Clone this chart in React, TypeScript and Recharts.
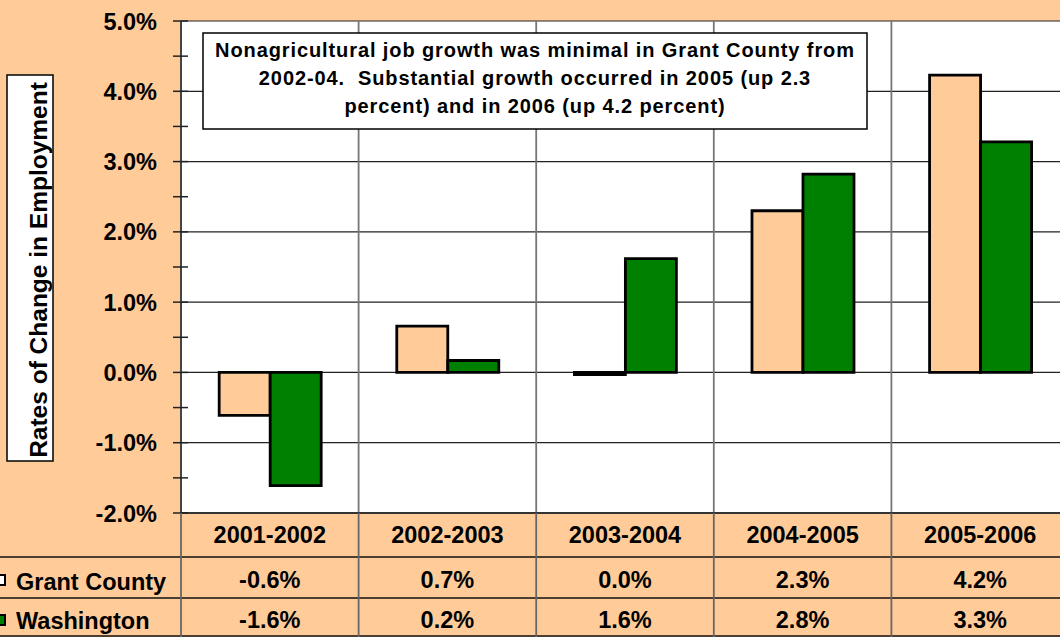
import React from 'react';
import { BarChart, Bar, XAxis, YAxis, CartesianGrid } from 'recharts';

const categories = ['2001-2002', '2002-2003', '2003-2004', '2004-2005', '2005-2006'];
const grantCounty = [-0.61, 0.66, -0.03, 2.3, 4.23];
const washington = [-1.61, 0.17, 1.62, 2.82, 3.28];
const seriesNames = ['Grant County', 'Washington'];
const yTicks = [-2, -1.5, -1, -0.5, 0, 0.5, 1, 1.5, 2, 2.5, 3, 3.5, 4, 4.5, 5];
const gridValues = [-2, -1, 0, 1, 2, 3, 4, 5];
const yTitle = 'Rates of Change in Employment';
const annotationLines = [
  'Nonagricultural job growth was minimal in Grant County from',
  '2002-04.  Substantial growth occurred in 2005 (up 2.3',
  'percent) and in 2006 (up 4.2 percent)',
];

const data = categories.map((c, i) => ({ category: c, grant: grantCounty[i], wa: washington[i] }));

const PEACH = '#FFCC99';
const GREEN = '#008000';
const FONT = '"Liberation Sans", Arial, sans-serif';

const W = 1080;
const H = 637;
const PLOT_LEFT = 181;
const PLOT_TOP = 21;
const PLOT_RIGHT_MARGIN = 11;
const XAXIS_H = 124;
const PLOT_W = W - PLOT_LEFT - PLOT_RIGHT_MARGIN;
const PLOT_BOTTOM = H - XAXIS_H;

const fmt = (v: number) => (Math.round(v * 10) / 10 + 0).toFixed(1) + '%';

const YTick = (props: any) => {
  const { x, y, payload } = props;
  const v = payload.value as number;
  const major = Number.isInteger(v);
  return (
    <g>
      <line x1={x - 8} x2={x + 7} y1={y} y2={y} stroke="#222" strokeWidth={1.5} />
      {major && (
        <text x={x - 24} y={y + 8.5} textAnchor="end" fontFamily={FONT} fontWeight="bold" fontSize={23.5} fill="#000">
          {v.toFixed(1) + '%'}
        </text>
      )}
    </g>
  );
};

const XTick = (props: any) => {
  const { x, y, payload, index } = props;
  return (
    <g fontFamily={FONT} fontWeight="bold" fontSize={23.5} fill="#000">
      <text x={x} y={y + 30} textAnchor="middle">{payload.value}</text>
      <text x={x} y={y + 75} textAnchor="middle">{fmt(grantCounty[index])}</text>
      <text x={x} y={y + 115} textAnchor="middle">{fmt(washington[index])}</text>
    </g>
  );
};

export default function App() {
  const catW = PLOT_W / categories.length;
  const boundaries = categories.map((_, i) => PLOT_LEFT + catW * i).concat([PLOT_LEFT + PLOT_W]);
  return (
    <div style={{ position: 'absolute', left: 0, top: 0, width: 1060, height: 637, overflow: 'hidden', background: PEACH }}>
      <BarChart
        width={W}
        height={H}
        data={data}
        margin={{ top: PLOT_TOP, right: PLOT_RIGHT_MARGIN, bottom: 0, left: 0 }}
        barCategoryGap="21.5%"
        barGap={0}
      >
        <CartesianGrid
          vertical={false}
          horizontalValues={gridValues}
          stroke="#222"
          strokeWidth={1.2}
          fill="#FFFFFF"
          fillOpacity={1}
        />
        <CartesianGrid
          horizontal={false}
          verticalCoordinatesGenerator={({ offset }: any) =>
            categories.map((_, i) => offset.left + (offset.width * i) / categories.length).concat([offset.left + offset.width])
          }
          stroke="#777"
          strokeWidth={1.8}
        />
        <XAxis
          dataKey="category"
          height={XAXIS_H}
          tickLine={false}
          tickSize={0}
          tickMargin={0}
          axisLine={{ stroke: '#333', strokeWidth: 2 }}
          tick={<XTick />}
          interval={0}
        />
        <YAxis
          width={PLOT_LEFT}
          domain={[-2, 5]}
          ticks={yTicks}
          interval={0}
          tickLine={false}
          tickSize={0}
          tickMargin={0}
          axisLine={{ stroke: '#444', strokeWidth: 2 }}
          tick={<YTick />}
          allowDataOverflow
        />
        <Bar dataKey="grant" name={seriesNames[0]} fill={PEACH} stroke="#000" strokeWidth={2.8} isAnimationActive={false} />
        <Bar dataKey="wa" name={seriesNames[1]} fill={GREEN} stroke="#000" strokeWidth={2.8} isAnimationActive={false} />
      </BarChart>
      <svg width={1060} height={637} style={{ position: 'absolute', left: 0, top: 0, pointerEvents: 'none' }}>
        {[557, 598, 636].map((yy) => (
          <line key={yy} x1={0} x2={1060} y1={yy} y2={yy} stroke="#111" strokeWidth={1.5} />
        ))}
        {boundaries.map((bx, i) => (
          <line key={i} x1={bx} x2={bx} y1={PLOT_BOTTOM} y2={637} stroke="#666" strokeWidth={1.8} />
        ))}
        <rect x={-5} y={575} width={10} height={10} fill="#fff" stroke="#000" strokeWidth={2} />
        <rect x={-5} y={615} width={10} height={10} fill={GREEN} stroke="#000" strokeWidth={2} />
        <text x={16} y={590} fontFamily={FONT} fontWeight="bold" fontSize={23.5} fill="#000">{seriesNames[0]}</text>
        <text x={16} y={629} fontFamily={FONT} fontWeight="bold" fontSize={23.5} fill="#000">{seriesNames[1]}</text>
        <rect x={7} y={75} width={46} height={386} fill="#fff" stroke="#000" strokeWidth={1.5} />
        <text
          x={47}
          y={270}
          transform="rotate(-90 47 270)"
          textAnchor="middle"
          fontFamily={FONT}
          fontWeight="bold"
          fontSize={24.5}
          fill="#000"
        >
          {yTitle}
        </text>
        <rect x={203} y={33} width={664} height={96} fill="#fff" stroke="#000" strokeWidth={1.5} />
        {annotationLines.map((l, i) => (
          <text
            key={i}
            x={535}
            y={57 + i * 28}
            textAnchor="middle"
            fontFamily={FONT}
            fontWeight="bold"
            fontSize={20}
            letterSpacing={0.9}
            fill="#000"
            style={{ whiteSpace: 'pre' }}
          >
            {l}
          </text>
        ))}
      </svg>
    </div>
  );
}
